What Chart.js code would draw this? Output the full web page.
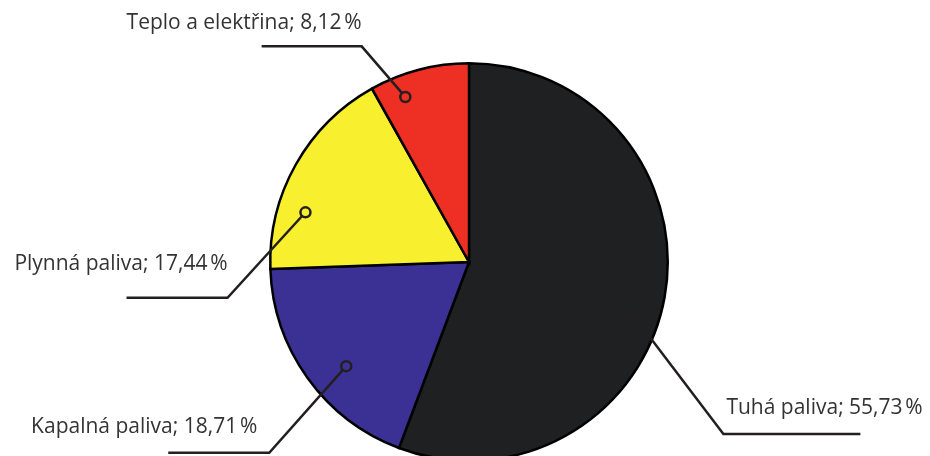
<!DOCTYPE html>
<html>
<head>
<meta charset="utf-8">
<script src="https://cdn.jsdelivr.net/npm/chart.js@4.4.1/dist/chart.umd.min.js"></script>
<style>
  html, body { margin: 0; padding: 0; background: #fff; overflow: hidden; }
  #wrap { width: 930px; height: 456px; overflow: hidden; }
</style>
</head>
<body>
<div id="wrap"><canvas id="pie" width="930" height="470"></canvas></div>
<script>
const labels = ["Tuhá paliva", "Kapalná paliva", "Plynná paliva", "Teplo a elektřina"];
const values = [55.73, 18.71, 17.44, 8.12];
const colors = ["#1f2022", "#3b3195", "#f8ef2f", "#ee3024"];

// callout placement: anchor (angle in degrees clockwise from top, fraction of radius),
// elbow (in radius units from center), horizontal run length, text offset above line
const callouts = [
  { angle: 108, frac: 0.87, ex: 1.28, ey: 0.865, run: 137, side: "right", ty: 26 },
  { angle: 229.7, frac: 0.81, ex: -1.005, ey: 0.96, run: 101, side: "left", ty: 26, tx: -12 },
  { angle: 286.9, frac: 0.86, ex: -1.215, ey: 0.18, run: 101, side: "left", ty: 34 },
  { angle: 338.9, frac: 0.89, ex: -0.54, ey: -1.085, run: 100, side: "left", ty: 23 },
];

function fmt(v) {
  return v.toFixed(2).replace(".", ",") + "\u202F%";
}

const calloutPlugin = {
  id: "callouts",
  afterDraw(chart) {
    const ctx = chart.ctx;
    const arc = chart.getDatasetMeta(0).data[0];
    const cx = arc.x, cy = arc.y, r = arc.outerRadius;
    ctx.save();
    ctx.strokeStyle = "#231f20";
    ctx.lineWidth = 2.5;
    ctx.fillStyle = "#333333";
    ctx.font = "21px 'Open Sans', sans-serif";
    ctx.textBaseline = "middle";
    callouts.forEach((c, i) => {
      const a = c.angle * Math.PI / 180;
      const ax = cx + Math.sin(a) * r * c.frac;
      const ay = cy - Math.cos(a) * r * c.frac;
      const ex = cx + c.ex * r;
      const ey = cy + c.ey * r;
      const endX = c.side === "right" ? ex + c.run : ex - c.run;
      const d = Math.hypot(ex - ax, ey - ay);
      const sx = ax + (ex - ax) / d * 5;
      const sy = ay + (ey - ay) / d * 5;
      ctx.beginPath();
      ctx.moveTo(sx, sy);
      ctx.lineTo(ex, ey);
      ctx.lineTo(endX, ey);
      ctx.stroke();
      ctx.beginPath();
      ctx.arc(ax, ay, 5, 0, Math.PI * 2);
      ctx.stroke();
      ctx.textAlign = c.side === "right" ? "left" : "right";
      ctx.fillText(labels[i] + "; " + fmt(values[i]), ex + (c.tx || 0) + (c.side === "right" ? 3 : 0), ey - c.ty);
    });
    ctx.restore();
  }
};

new Chart(document.getElementById("pie"), {
  type: "pie",
  data: {
    labels: labels,
    datasets: [{
      data: values,
      backgroundColor: colors,
      borderColor: "#000000",
      borderWidth: 2.5,
      borderJoinStyle: "miter",
    }],
  },
  options: {
    responsive: false,
    animation: false,
    layout: { padding: { left: 269, right: 261, top: 62, bottom: 8 } },
    plugins: {
      legend: { display: false },
      tooltip: { enabled: false },
    },
  },
  plugins: [calloutPlugin],
});
</script>
</body>
</html>
